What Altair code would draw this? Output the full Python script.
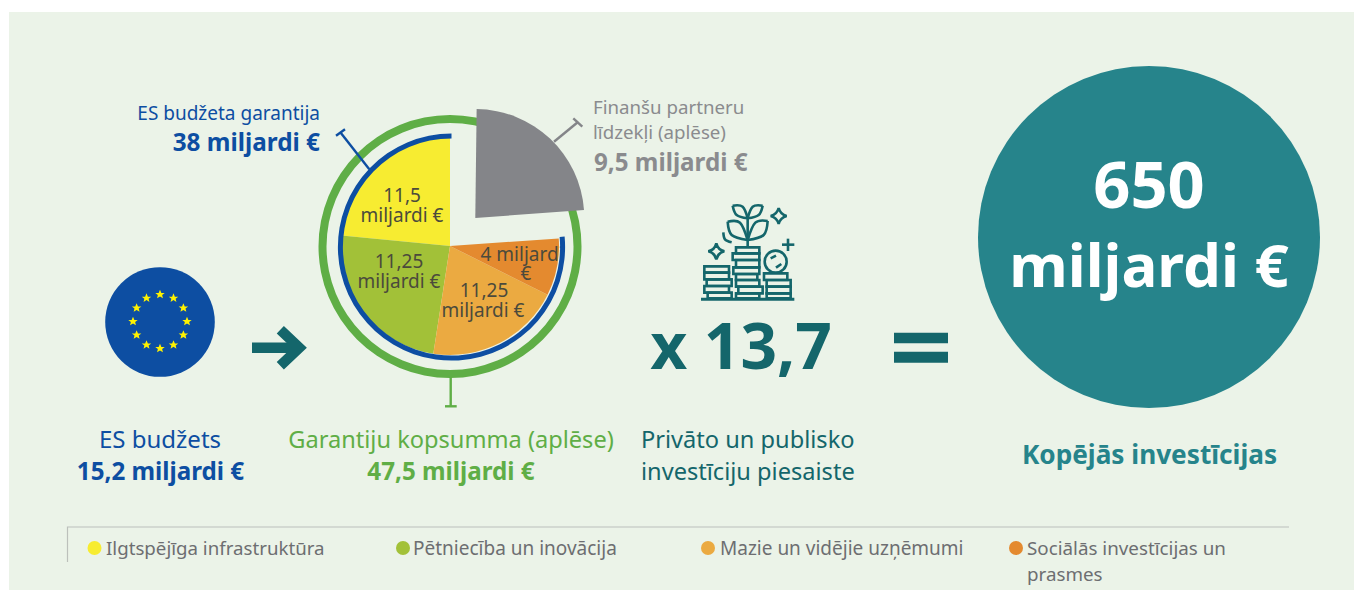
import math
import altair as alt
import pandas as pd

# ---------- content ----------
SEGMENTS = ["Ilgtspējīga infrastruktūra", "Pētniecība un inovācija",
            "Mazie un vidējie uzņēmumi", "Sociālās investīcijas un"]
SEGMENT_TAIL = "prasmes"
# wedge boundaries (degrees clockwise from the top)
WEDGE_START = [275.5, 188.8, 116.5, 86.0]
WEDGE_END = [360.0, 275.5, 188.8, 116.5]
PARTNER_WEDGE = [0.7, 85.8]
GUARANTEE_ARC = [84.7, 360.0]
STAR_ANGLES = [0, 30, 60, 90, 120, 150, 180, 210, 240, 270, 300, 330]
SEG_COLORS = ["#f7ec31", "#a2c138", "#ebaa41", "#e48a2f"]

FONT = "Noto Sans"
BG = "#ebf3e8"
BLUE = "#0d4ea2"
GREEN = "#5fae46"
TEAL = "#14666b"
TEAL2 = "#26848b"
GREY = "#848589"
GREY_T = "#8a8b8e"
INK = "#4b4a3c"
LEG = "#6d6e71"

# ---------- page-pixel scales ----------
SX = alt.Scale(domain=[8, 1354], range=[0, 1346], nice=False, zero=False)
SY = alt.Scale(domain=[8, 590], range=[0, 582], nice=False, zero=False)
X = lambda f="x": alt.X(f"{f}:Q", scale=SX, axis=None)
Y = lambda f="y": alt.Y(f"{f}:Q", scale=SY, axis=None)


def text(rows, size, color, bold=False, align="center"):
    df = pd.DataFrame(rows, columns=["t", "x", "y"])
    df["y"] = df["y"] + 1
    return alt.Chart(df).mark_text(
        font=FONT, fontSize=size, color=color, align=align, baseline="middle",
        fontWeight="bold" if bold else "normal",
    ).encode(x=X(), y=Y(), text="t:N")


def segs(paths, color, width, interpolate="linear"):
    rows = []
    for p, path in enumerate(paths):
        for i, (x, y) in enumerate(path):
            rows.append({"p": p, "i": i, "x": x, "y": y})
    return alt.Chart(pd.DataFrame(rows)).mark_line(
        color=color, strokeWidth=width, interpolate=interpolate,
        strokeJoin="miter", strokeCap="butt",
    ).encode(x=X(), y=Y(), detail="p:N", order="i:Q")


def rects(rows, fill=None, stroke=None, width=0):
    df = pd.DataFrame(rows, columns=["x", "x2", "y", "y2"])
    kw = {}
    if fill:
        kw["fill"] = fill
    else:
        kw["fillOpacity"] = 0
    if stroke:
        kw["stroke"] = stroke
        kw["strokeWidth"] = width
    return alt.Chart(df).mark_rect(**kw).encode(
        x=X(), x2="x2:Q", y=Y(), y2="y2:Q")


def circles(rows, color, r):
    df = pd.DataFrame(rows, columns=["x", "y"])
    return alt.Chart(df).mark_circle(color=color, opacity=1, size=(2 * r) ** 2).encode(x=X(), y=Y())


def arcs(starts, ends, cx, cy, r0, r1, colors):
    df = pd.DataFrame({
        "t0": [math.radians(a) for a in starts],
        "t1": [math.radians(a) for a in ends],
        "x": cx, "y": cy, "c": colors,
    })
    return alt.Chart(df).mark_arc(radius=r1, radius2=r0).encode(
        x=X(), y=Y(),
        theta=alt.Theta("t0:Q", scale=None, stack=None),
        theta2="t1:Q",
        color=alt.Color("c:N", scale=None),
    )


z = lambda x, y: (640 + x / 3, 190 + y / 3)
zr = lambda x0, x1, y0, y1: (640 + x0 / 3, 640 + x1 / 3, 190 + y0 / 3, 190 + y1 / 3)

layers = []
# background panel
layers.append(rects([(9, 1354, 12, 590)], fill=BG))

# EU flag
layers.append(circles([(160, 322)], BLUE, 54.8))
stars = [(160 + 27 * math.sin(math.radians(a)), 321.5 - 27 * math.cos(math.radians(a))) for a in STAR_ANGLES]
layers.append(alt.Chart(pd.DataFrame(stars, columns=["x", "y"])).mark_point(
    shape="M0,-1L0.29,-0.31L1,-0.31L0.45,0.12L0.62,0.81L0,0.4L-0.62,0.81L-0.45,0.12L-1,-0.31L-0.29,-0.31Z",
    filled=True, color="#fff200", opacity=1, size=90).encode(x=X(), y=Y()))

# arrow
layers.append(segs([[(252, 347.7), (295, 347.7)],
                    [(280.3, 329.7), (299.3, 347.7), (280.3, 365.7)]], TEAL, 10.4))

# guarantee ring and leaders
layers.append(arcs([0], [360], 450, 246.5, 123.5, 131.5, [GREEN]))
layers.append(segs([[(450.7, 376), (450.7, 406)], [(445, 406.3), (456.7, 406.3)]], GREEN, 2.4))
layers.append(segs([[(369.3, 169.3), (340.7, 132.7)], [(336, 135.7), (345, 129.3)]], BLUE, 2.4))

# pie
layers.append(arcs(WEDGE_START, WEDGE_END, 450, 246, 0, 109, SEG_COLORS))
layers.append(text([("11,5", 402, 195), ("miljardi €", 402, 215),
                    ("11,25", 399, 261), ("miljardi €", 399, 281),
                    ("11,25", 484, 290), ("miljardi €", 483, 310),
                    ("4 miljardi", 522, 254), ("€", 526, 273)], 19, INK))
layers.append(arcs(GUARANTEE_ARC[:1], GUARANTEE_ARC[1:], 451.5, 247, 108.6, 113.6, [BLUE]))

# partner wedge
layers.append(segs([[(554, 141.7), (578.3, 121.7)], [(573.3, 118.3), (582.3, 126.7)]], GREY, 2.4))
layers.append(arcs(PARTNER_WEDGE[:1], PARTNER_WEDGE[1:], 475.3, 218, 0, 109, [GREY]))

# icon
layers.append(segs([[z(183, 328), z(463, 328)]], TEAL, 3))
coins = [zr(193, 267, 229, 248), zr(193, 267, 248, 268), zr(200, 275, 268, 288), zr(193, 267, 288, 308), zr(203, 275, 308, 325),
         zr(288, 358, 172, 190), zr(278, 358, 190, 210), zr(288, 358, 210, 232), zr(280, 358, 232, 252),
         zr(288, 352, 252, 270), zr(288, 358, 270, 290), zr(295, 368, 290, 310), zr(288, 358, 310, 325),
         zr(372, 442, 250, 270), zr(380, 452, 270, 290), zr(380, 452, 290, 310), zr(380, 452, 310, 325)]
layers.append(rects(coins, stroke=TEAL, width=2.6))
layers.append(segs([[z(323, 172), z(323, 80)], [z(426, 164), z(463, 164)], [z(444, 146), z(444, 183)],
                    [z(392, 205), z(408, 197)], [z(408, 233), z(424, 222)]], TEAL, 2.6))
leaves = [[z(263, 95), z(300, 98), z(323, 150)], [z(263, 95), z(275, 135), z(323, 150)],
          [z(383, 93), z(346, 98), z(323, 150)], [z(383, 93), z(371, 135), z(323, 150)],
          [z(278, 47), z(308, 50), z(323, 85)], [z(278, 47), z(290, 75), z(323, 85)],
          [z(368, 47), z(338, 50), z(323, 85)], [z(368, 47), z(356, 75), z(323, 85)],
          [z(250, 127), z(255, 148), z(275, 157)]]
layers.append(segs(leaves, TEAL, 2.6, "cardinal"))
layers.append(alt.Chart(pd.DataFrame([z(407, 215)], columns=["x", "y"])).mark_point(
    shape="circle", filled=False, color=TEAL, strokeWidth=2.6, opacity=1,
    size=(2 * 11) ** 2).encode(x=X(), y=Y()))
layers.append(alt.Chart(pd.DataFrame([z(416, 78), z(229, 184)], columns=["x", "y"])).mark_point(
    shape="M0,-1Q0.2,-0.2,1,0Q0.2,0.2,0,1Q-0.2,0.2,-1,0Q-0.2,-0.2,0,-1Z",
    filled=False, color=TEAL, strokeWidth=2.6, opacity=1, size=256).encode(x=X(), y=Y()))

# equals sign
layers.append(rects([(894, 948, 332.7, 343.3), (894, 948, 351.7, 362.7)], fill=TEAL))

# total circle
layers.append(circles([(1149, 237)], TEAL2, 171))

# headline texts
layers.append(text([("ES budžeta garantija", 320, 113)], 19, BLUE, align="right"))
layers.append(text([("38 miljardi €", 320, 143)], 24.3, BLUE, True, "right"))
layers.append(text([("Finanšu partneru", 593, 107), ("līdzekļi (aplēse)", 593, 132)], 18.7, GREY_T, align="left"))
layers.append(text([("9,5 miljardi €", 594, 163)], 24.2, GREY_T, True, "left"))
layers.append(text([("ES budžets", 160, 440)], 24, BLUE))
layers.append(text([("15,2 miljardi €", 160.5, 472)], 24.2, BLUE, True))
layers.append(text([("Garantiju kopsumma (aplēse)", 451, 440)], 23.6, GREEN))
layers.append(text([("47,5 miljardi €", 451, 472)], 24.2, GREEN, True))
layers.append(text([("x 13,7", 741, 349)], 64, TEAL, True))
layers.append(text([("Privāto un publisko", 641, 440), ("investīciju piesaiste", 641, 472)], 23.6, TEAL, align="left"))
layers.append(text([("650", 1149, 187)], 65, "#ffffff", True))
layers.append(text([("miljardi €", 1149, 268)], 60, "#ffffff", True))
layers.append(text([("Kopējās investīcijas", 1149.5, 455)], 26.2, TEAL2, True))

# legend
layers.append(segs([[(1289, 527), (67.5, 527), (67.5, 562)]], "#bcc0bb", 1.2))
LEG_X = [94.5, 403, 708, 1016]
LEG_TX = [106, 413, 720, 1027]
LEG_SIZE = [18.7, 19, 19, 18.8]
for i in range(4):
    layers.append(circles([(LEG_X[i], 548)], SEG_COLORS[i], 7))
    layers.append(text([(SEGMENTS[i], LEG_TX[i], 548)], LEG_SIZE[i], LEG, align="left"))
layers.append(text([(SEGMENT_TAIL, LEG_TX[3], 574)], 18.8, LEG, align="left"))

chart = alt.layer(*layers).properties(
    width=1346, height=582, padding=0,
    autosize=alt.AutoSizeParams(type="none"),
    background="#ffffff",
).configure_view(stroke=None)

chart.save("out.html", embed_options={"renderer": "svg", "actions": False})
